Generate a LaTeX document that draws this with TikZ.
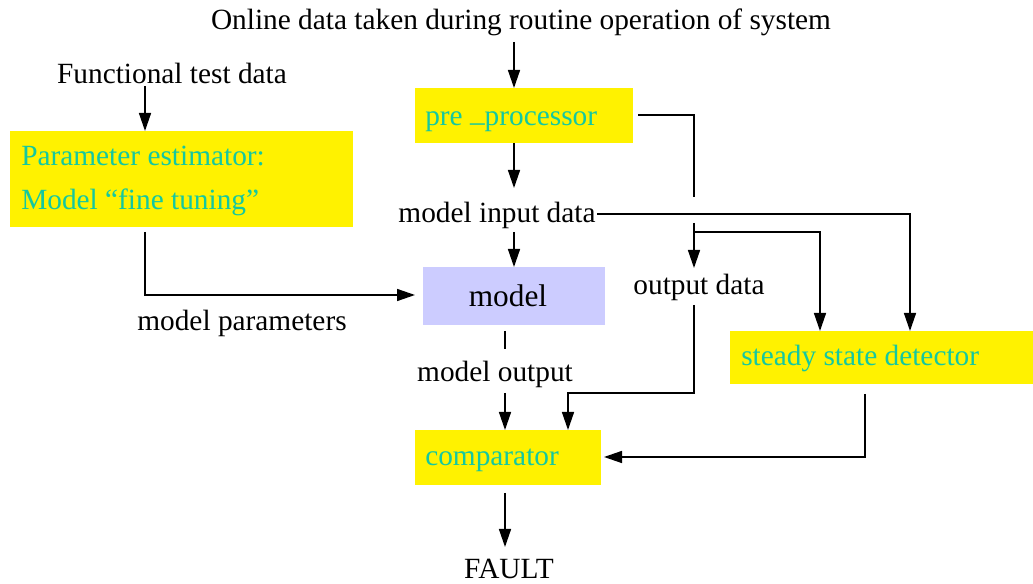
\documentclass[tikz,border=0pt]{standalone}
\usepackage{fontspec}
\setmainfont{Liberation Serif}
\usetikzlibrary{arrows.meta,fit}
\definecolor{teal2}{RGB}{20,200,160}
\definecolor{lav}{RGB}{204,204,255}
\tikzset{
  px/.style={x=0.75pt,y=-0.75pt},
  ybox/.style={fill=yellow,draw=none,inner sep=0pt},
  lbox/.style={fill=lav,draw=none,inner sep=0pt},
  lbl/.style={inner sep=0pt,font=\fontsize{22}{26}\selectfont,text=black},
  tlbl/.style={inner sep=0pt,font=\fontsize{22}{26}\selectfont,text=teal2,anchor=base west},
  conn/.style={line width=1.1pt,draw=black},
  arr/.style={conn,-{Triangle[length=13.5pt,width=9pt]}},
}
\begin{document}
\begin{tikzpicture}[px]
\useasboundingbox (0,0) rectangle (1033,584);
% boxes
\node[ybox,fit={(415,88) (633,143)}] (pre) {};
\node[ybox,fit={(10,131) (353,227)}] (est) {};
\node[lbox,fit={(423,267) (605,325)}] (model) {};
\node[ybox,fit={(730,331) (1033,384)}] (ssd) {};
\node[ybox,fit={(415,430) (601,485)}] (comp) {};
% box texts
\node[tlbl] (preT) at (425,126) {pre \raisebox{3pt}{\_}processor};
\node[tlbl] (estT1) at (21,166) {Parameter estimator:};
\node[tlbl] (estT2) at (21,210) {Model “fine tuning”};
\node[lbl,anchor=base] (modelT) at (508,307) {\fontsize{23.5}{28}\selectfont model};
\node[tlbl] (ssdT) at (741,366) {steady state detector};
\node[tlbl] (compT) at (425,466) {comparator};
% plain labels
\node[lbl,anchor=base] (online) at (521,30) {Online data taken during routine operation of system};
\node[lbl,anchor=base] (func) at (172,84) {Functional test data};
\node[lbl,anchor=base] (mid) at (497,223) {model input data};
\node[lbl,anchor=base] (od) at (699,295) {output data};
\node[lbl,anchor=base] (mp) at (242,331) {model parameters};
\node[lbl,anchor=base] (mo) at (495,382) {model output};
\node[lbl,anchor=base] (fault) at (509,579) {FAULT};
% coordinates
\coordinate (c1s) at (514,42);
\coordinate (c1e) at (514,88);
\coordinate (c2s) at (514,143);
\coordinate (c2e) at (514,188);
\coordinate (c3s) at (638,115);
\coordinate (c3b) at (694,115);
\coordinate (c3e) at (694,197);
\coordinate (c4s) at (597,214);
\coordinate (c4b) at (910,214);
\coordinate (c4e) at (910,331);
\coordinate (c5s) at (694,223);
\coordinate (c5e) at (694,268);
\coordinate (c6s) at (694,232);
\coordinate (c6b) at (820,232);
\coordinate (c6e) at (820,331);
\coordinate (c7s) at (514,232);
\coordinate (c7e) at (514,267);
\coordinate (c8s) at (145,86);
\coordinate (c8e) at (145,131);
\coordinate (c9s) at (145,232);
\coordinate (c9b) at (145,295);
\coordinate (c9e) at (415,295);
\coordinate (c10s) at (505,331);
\coordinate (c10e) at (505,349);
\coordinate (c11s) at (505,393);
\coordinate (c11e) at (505,430);
\coordinate (c12s) at (694,305);
\coordinate (c12b) at (694,393);
\coordinate (c12c) at (568,393);
\coordinate (c12e) at (568,430);
\coordinate (c13s) at (865,394);
\coordinate (c13b) at (865,457);
\coordinate (c13e) at (604,457);
\coordinate (c14s) at (505,493);
\coordinate (c14e) at (505,547);
% connectors
\draw[arr] (c1s) -- (c1e);
\draw[arr] (c2s) -- (c2e);
\draw[conn] (c3s) -- (c3b) -- (c3e);
\draw[arr] (c4s) -- (c4b) -- (c4e);
\draw[arr] (c5s) -- (c5e);
\draw[arr] (c6s) -- (c6b) -- (c6e);
\draw[arr] (c7s) -- (c7e);
\draw[arr] (c8s) -- (c8e);
\draw[arr] (c9s) -- (c9b) -- (c9e);
\draw[conn] (c10s) -- (c10e);
\draw[arr] (c11s) -- (c11e);
\draw[arr] (c12s) -- (c12b) -- (c12c) -- (c12e);
\draw[arr] (c13s) -- (c13b) -- (c13e);
\draw[arr] (c14s) -- (c14e);
\end{tikzpicture}
\end{document}
